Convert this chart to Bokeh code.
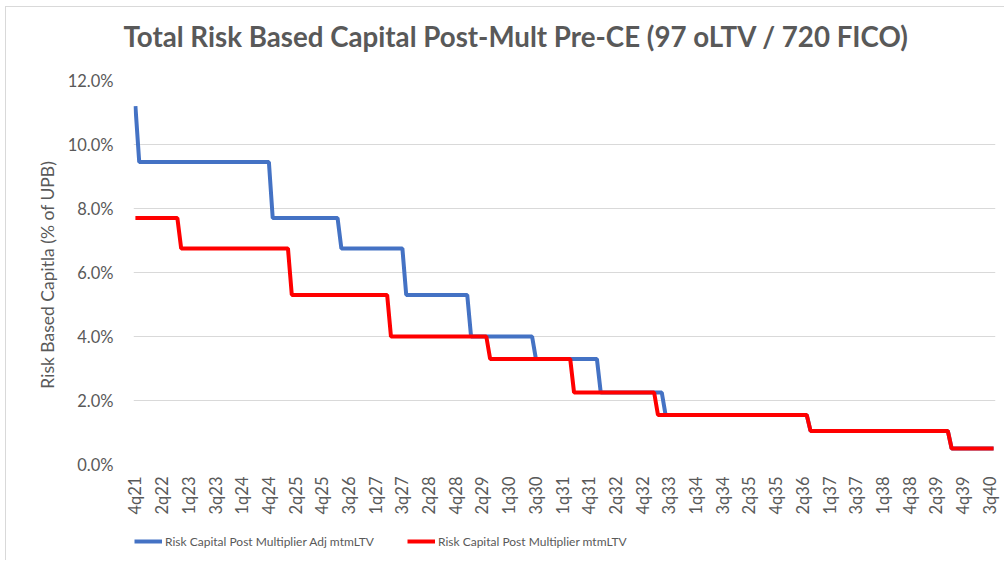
import math
from bokeh.plotting import figure
from bokeh.layouts import column
from bokeh.models import (ColumnDataSource, FixedTicker, PrintfTickFormatter,
                          Legend, LegendItem, Range1d, Title)
from bokeh.embed import file_html
from bokeh.resources import INLINE

# ---------------- data ----------------
title_text = "Total Risk Based Capital Post-Mult Pre-CE (97 oLTV / 720 FICO)"
y_title = "Risk Based Capitla (% of  UPB)"
series_names = ["Risk Capital Post Multiplier Adj mtmLTV",
                "Risk Capital Post Multiplier mtmLTV"]

n_months = 226  # monthly points, Nov 2021 .. Aug 2040
tick_labels = ["4q21", "2q22", "1q23", "3q23", "1q24", "4q24", "2q25", "4q25",
               "3q26", "1q27", "3q27", "2q28", "4q28", "2q29", "1q30", "3q30",
               "1q31", "4q31", "2q32", "4q32", "3q33", "1q34", "3q34", "2q35",
               "4q35", "2q36", "1q37", "3q37", "1q38", "4q38", "2q39", "4q39",
               "3q40"]
label_every = 7

# step runs: first month of each level, level (% of UPB)
adj_run_start = [0, 1, 36, 54, 71, 88, 105, 122, 139, 177, 214]
adj_levels = [11.2, 9.45, 7.7, 6.75, 5.3, 4.0, 3.3, 2.25, 1.55, 1.05, 0.5]
mtm_run_start = [0, 12, 41, 67, 93, 115, 137, 177, 214]
mtm_levels = [7.7, 6.75, 5.3, 4.0, 3.3, 2.25, 1.55, 1.05, 0.5]


def expand(starts, levels, n):
    out = []
    for i in range(n):
        v = levels[0]
        for s, lv in zip(starts, levels):
            if i >= s:
                v = lv
        out.append(v)
    return out


months = list(range(n_months))
adj_values = expand(adj_run_start, adj_levels, n_months)
mtm_values = expand(mtm_run_start, mtm_levels, n_months)

src = ColumnDataSource(dict(m=months, adj=adj_values, mtm=mtm_values))

# ---------------- main figure ----------------
FONT = "Lato"
GREY = "#595959"
BLUE = "#4472C4"
RED = "#FF0000"

p = figure(width=998, height=513, output_backend="svg", toolbar_location=None,
           x_range=Range1d(-0.5, n_months - 0.5), y_range=Range1d(0, 12),
           min_border_left=127, min_border_right=9, min_border_top=73,
           min_border_bottom=56)
p.outline_line_color = None
p.background_fill_color = "white"

# spacer between frame and title
p.add_layout(Title(text=" ", text_font_size="10px"), "above")

p.title.text = title_text
p.title.align = "left"
p.title.offset = -10
p.title.text_font = FONT
p.title.text_font_size = "27.7px"
p.title.text_font_style = "bold"
p.title.text_color = GREY

r_adj = p.line("m", "adj", source=src, line_width=4, line_color=BLUE)
r_mtm = p.line("m", "mtm", source=src, line_width=4, line_color=RED)

# y axis
yax = p.yaxis[0]
yax.ticker = FixedTicker(ticks=[0, 2, 4, 6, 8, 10, 12])
yax.formatter = PrintfTickFormatter(format="%.1f%%")
yax.axis_line_color = None
yax.major_tick_line_color = None
yax.minor_tick_line_color = None
yax.major_label_standoff = 14
yax.major_label_text_font = FONT
yax.major_label_text_font_size = "16.5px"
yax.major_label_text_color = GREY
yax.axis_label = y_title
yax.axis_label_text_font = FONT
yax.axis_label_text_font_size = "17.5px"
yax.axis_label_text_font_style = "normal"
yax.axis_label_text_color = GREY
yax.axis_label_standoff = 7

# x axis
xax = p.xaxis[0]
tick_pos = [i * label_every for i in range(len(tick_labels))]
xax.ticker = FixedTicker(ticks=tick_pos)
xax.major_label_overrides = {t: lab for t, lab in zip(tick_pos, tick_labels)}
xax.major_label_orientation = math.pi / 2
xax.axis_line_color = None
xax.major_tick_line_color = None
xax.minor_tick_line_color = None
xax.major_label_standoff = 6
xax.major_label_text_font = FONT
xax.major_label_text_font_size = "16.5px"
xax.major_label_text_color = GREY

p.xgrid.grid_line_color = None
p.ygrid.grid_line_color = "#d9d9d9"
p.ygrid.grid_line_width = 1

# ---------------- legend strip ----------------
pl = figure(width=998, height=40, output_backend="svg", toolbar_location=None,
            x_range=Range1d(0, 1), y_range=Range1d(0, 1),
            x_axis_type=None, y_axis_type=None,
            min_border_left=0, min_border_right=0, min_border_top=0,
            min_border_bottom=0)
pl.outline_line_color = None
pl.xgrid.grid_line_color = None
pl.ygrid.grid_line_color = None
# series renderers for the legend keys (their data lies outside this strip's ranges)
l_adj = pl.line(x=[-5, -4], y=[-5, -5], line_width=4, line_color=BLUE)
l_mtm = pl.line(x=[-5, -4], y=[-5, -5], line_width=4, line_color=RED)

legend = Legend(items=[LegendItem(label=series_names[0], renderers=[l_adj]),
                       LegendItem(label=series_names[1], renderers=[l_mtm])],
                orientation="horizontal", location=(1, 9),
                label_text_font=FONT, label_text_font_size="12px",
                label_text_color=GREY, glyph_width=28, glyph_height=20,
                label_height=20, label_standoff=3, spacing=33, padding=0,
                margin=0, border_line_color=None, background_fill_alpha=0)
pl.add_layout(legend)

layout = column(p, pl, spacing=0, margin=(6, 0, 0, 5),
                styles={"border-top": "1px solid #d9d9d9",
                        "border-left": "1px solid #d9d9d9"})
open("out.html", "w").write(file_html(layout, INLINE))
